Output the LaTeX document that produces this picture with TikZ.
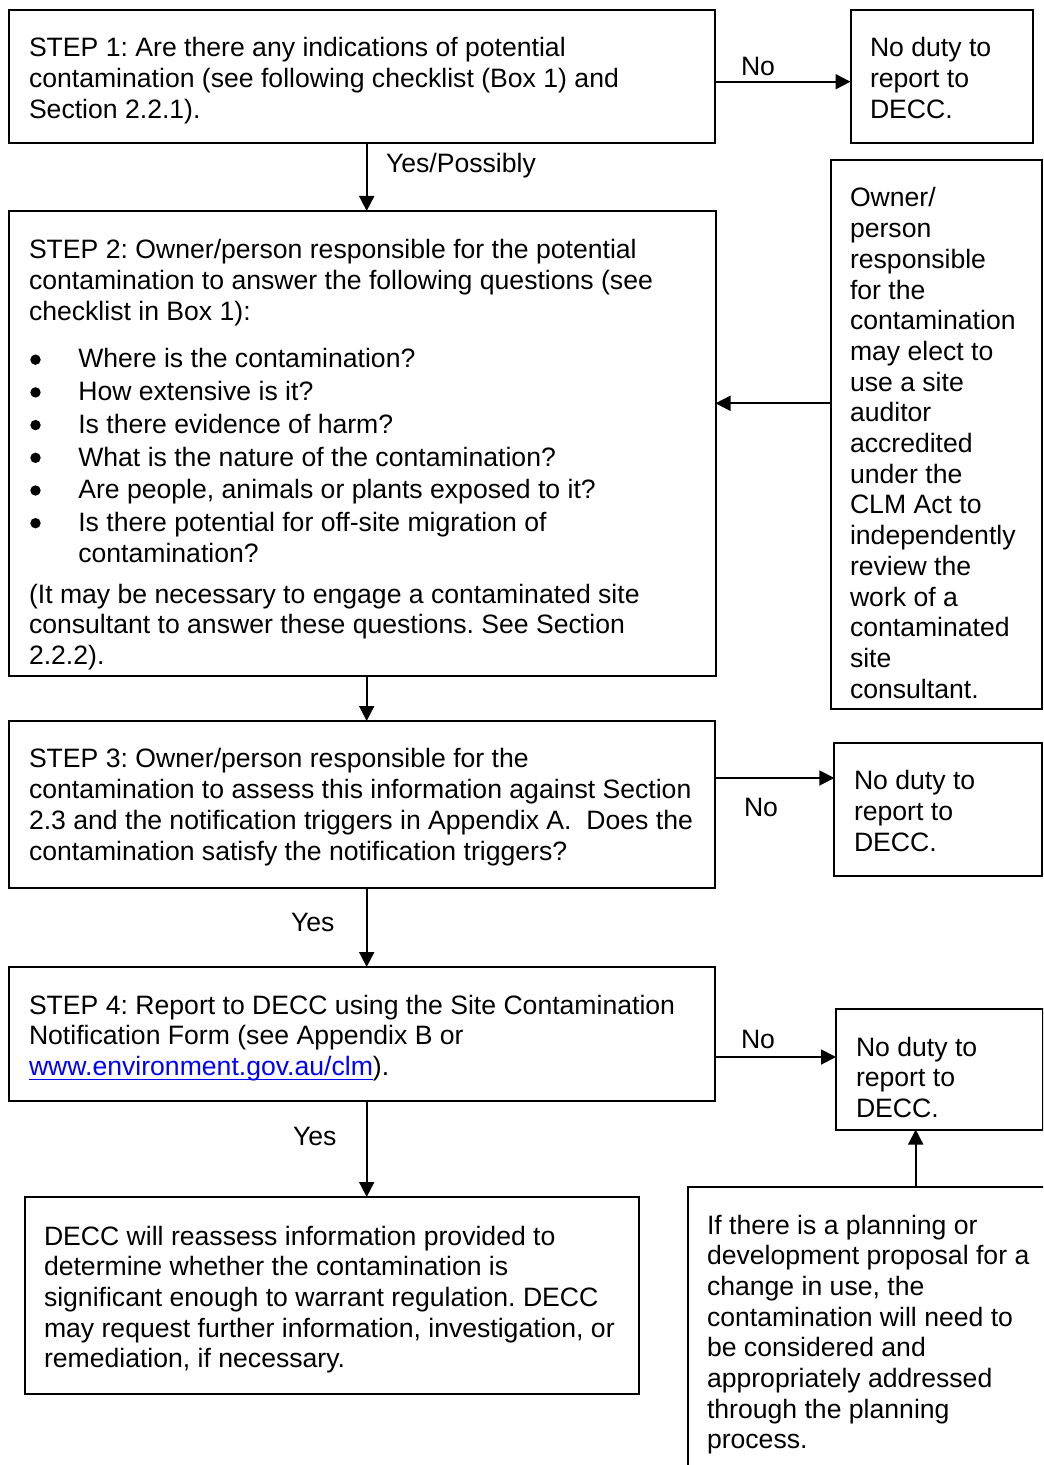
\documentclass[tikz,border=0pt]{standalone}
\usepackage{fontspec}
\setmainfont{Liberation Sans}
\usetikzlibrary{arrows.meta,fit}
\definecolor{linkblue}{RGB}{0,0,255}
\frenchspacing
\newcommand\bul{\makebox[24.65pt][l]{\hspace{0.65pt}\tikz[baseline=0pt]\fill (2.6pt,4.15pt) circle[radius=2.6pt];}}
\newcommand\ulink[1]{\setbox0\hbox{#1}\rlap{\rule[-2.4pt]{\wd0}{0.8pt}}\box0}
\begin{document}
\begin{tikzpicture}[x=0.5pt,y=-0.5pt,
  box/.style={draw, line width=1pt, inner sep=0pt, outer sep=0pt},
  txt/.style={anchor=north west, inner sep=0pt, outer sep=0pt, align=left,
    font=\fontsize{13.3pt}{15.35pt}\selectfont\frenchspacing},
  lbl/.style={anchor=base west, inner sep=0pt, outer sep=0pt,
    font=\fontsize{13.3pt}{15.35pt}\selectfont},
  arr/.style={line width=0.9pt, -{Triangle[length=7.5pt,width=7.5pt]}}]
\useasboundingbox (0,0) rectangle (1043,1465);
\clip (0,0) rectangle (1043,1465);

% boxes
\node[box, fit={(9,10) (715,143.5)}] (s1) {};
\node[box, fit={(850.5,10) (1033.3,143.5)}] (n1) {};
\node[box, fit={(9,211) (715.5,675.5)}] (s2) {};
\node[box, fit={(830.7,160) (1042.3,709)}] (own) {};
\node[box, fit={(9,721) (715,888)}] (s3) {};
\node[box, fit={(834.3,743.3) (1042,875.5)}] (n2) {};
\node[box, fit={(9,967) (715,1101)}] (s4) {};
\node[box, fit={(836,1009) (1042.5,1129.5)}] (n3) {};
\node[box, fit={(25,1197) (639,1394)}] (decc) {};
\node[box, fit={(688,1187) (1060,1480)}] (plan) {};

% texts
\node[txt] (t1) at (29,35.5) {\strut STEP 1: Are there any indications of potential\\contamination (see following checklist (Box 1) and\\Section 2.2.1).};
\node[txt] (tn1) at (870,35.5) {\strut No duty to\\report to\\DECC.};
\node[txt] (t2) at (29,237.5) {\strut STEP 2: Owner/person responsible for the potential\\contamination to answer the following questions (see\\checklist in Box 1):\\[8.45pt]
\bul Where is the contamination?\\[1pt]
\bul How extensive is it?\\[1pt]
\bul Is there evidence of harm?\\[1pt]
\bul What is the nature of the contamination?\\[1pt]
\bul Are people, animals or plants exposed to it?\\[1pt]
\bul Is there potential for off-site migration of\\
\hspace*{24.65pt}contamination?\\[5.15pt]
(It may be necessary to engage a contaminated site\\consultant to answer these questions. See Section\\2.2.2).};
\node[txt] (town) at (850,185.5) {\strut Owner/\\person\\responsible\\for the\\contamination\\may elect to\\use a site\\auditor\\accredited\\under the\\CLM Act to\\independently\\review the\\work of a\\contaminated\\site\\consultant.};
\node[txt] (t3) at (29,746.5) {\strut STEP 3: Owner/person responsible for the\\contamination to assess this information against Section\\2.3 and the notification triggers in Appendix A.\ \ Does the\\contamination satisfy the notification triggers?};
\node[txt] (tn2) at (854,768.5) {\strut No duty to\\report to\\DECC.};
\node[txt] (t4) at (29,992.5) {\strut STEP 4: Report to DECC using the Site Contamination\\Notification Form (see Appendix B or\\\textcolor{linkblue}{\ulink{www.environment.gov.au/clm}}).};
\node[txt] (tn3) at (856,1034.5) {\strut No duty to\\report to\\DECC.};
\node[txt] (tdecc) at (44,1223.5) {\strut DECC will reassess information provided to\\determine whether the contamination is\\significant enough to warrant regulation. DECC\\may request further information, investigation, or\\remediation, if necessary.};
\node[txt] (tplan) at (707,1212.5) {\strut If there is a planning or\\development proposal for a\\change in use, the\\contamination will need to\\be considered and\\appropriately addressed\\through the planning\\process.};

% labels
\node[lbl] (l1) at (741,76) {No};
\node[lbl] (l2) at (386,173) {Yes/Possibly};
\node[lbl] (l3) at (744,816) {No};
\node[lbl] (l4) at (291,931) {Yes};
\node[lbl] (l5) at (741,1048) {No};
\node[lbl] (l6) at (293,1145) {Yes};

% connectors
\draw[arr] (s1.east |- 0,81.7) -- (n1.west |- 0,81.7);
\draw[arr] (s1.south -| 366.7,0) -- (s2.north -| 366.7,0);
\draw[arr] (own.west |- 0,403.3) -- (s2.east |- 0,403.3);
\draw[arr] (s2.south -| 366.7,0) -- (s3.north -| 366.7,0);
\draw[arr] (s3.east |- 0,778) -- (n2.west |- 0,778);
\draw[arr] (s3.south -| 366.7,0) -- (s4.north -| 366.7,0);
\draw[arr] (s4.east |- 0,1057) -- (n3.west |- 0,1057);
\draw[arr] (s4.south -| 366.7,0) -- (decc.north -| 366.7,0);
\draw[arr] (plan.north -| 915.7,0) -- (n3.south -| 915.7,0);
\end{tikzpicture}
\end{document}
